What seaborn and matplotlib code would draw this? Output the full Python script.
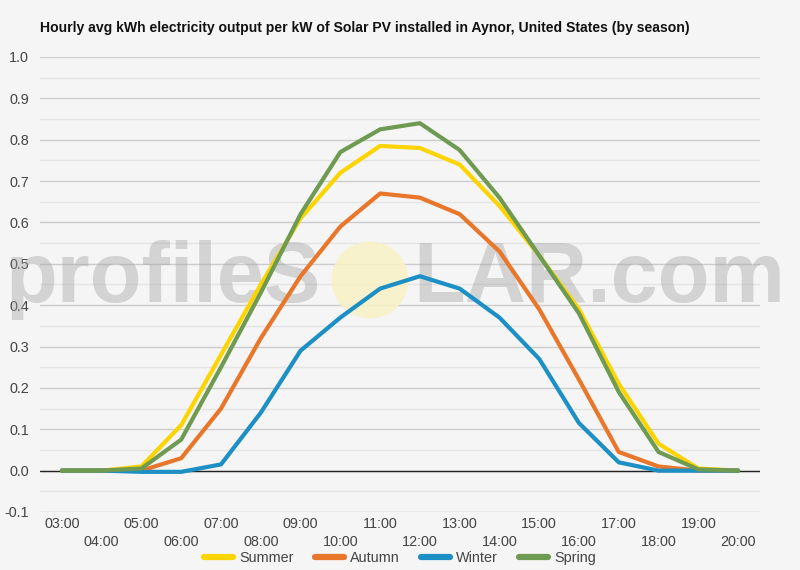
import numpy as np
import pandas as pd
import matplotlib
matplotlib.use("Agg")
import matplotlib.pyplot as plt
import seaborn as sns
from matplotlib.patches import Circle
from matplotlib.ticker import MultipleLocator, FixedLocator

hours = list(range(3, 21))
hour_labels = [f"{h:02d}:00" for h in hours]
seasons = ["Summer", "Autumn", "Winter", "Spring"]
summer = [0, 0, 0.01, 0.11, 0.28, 0.45, 0.61, 0.72, 0.785, 0.78, 0.74, 0.64, 0.52, 0.39, 0.21, 0.065, 0.005, 0]
autumn = [0, 0, 0, 0.03, 0.15, 0.32, 0.47, 0.59, 0.67, 0.66, 0.62, 0.53, 0.39, 0.22, 0.045, 0.01, 0, 0]
winter = [0, 0, -0.003, -0.003, 0.015, 0.14, 0.29, 0.37, 0.44, 0.47, 0.44, 0.37, 0.27, 0.115, 0.02, 0, 0, 0]
spring = [0, 0, 0.005, 0.075, 0.25, 0.43, 0.62, 0.77, 0.825, 0.84, 0.775, 0.66, 0.52, 0.38, 0.19, 0.045, 0.003, 0]
colors = ["#fcd400", "#e8762b", "#1c8fc4", "#6f9a52"]

df = pd.DataFrame({"hour": hours * 4,
                   "season": np.repeat(seasons, len(hours)),
                   "kwh": summer + autumn + winter + spring})

sns.set_style("white")
plt.rcParams["font.family"] = ["Liberation Sans", "DejaVu Sans"]
bg = "#f5f5f5"

fig = plt.figure(figsize=(8, 5.7), dpi=100, facecolor=bg)
ax = fig.add_axes([0.05, 0.1018, 0.90, 0.7982], facecolor=bg)

# watermark behind the lines
for txt, x0 in [("profileS", 5), ("LAR.com", 413)]:
    ax.text(x0 / 800, 1 - 302 / 570, txt, transform=fig.transFigure, fontsize=61,
            fontweight="bold", color="#a0a0a0", alpha=0.4, ha="left", va="baseline", zorder=0.6)
ax.add_patch(Circle((3.70, 2.90), 0.385, transform=fig.dpi_scale_trans, facecolor="#f8f2c4",
                    edgecolor="none", alpha=0.85, clip_on=False, zorder=0.7))

sns.lineplot(data=df, x="hour", y="kwh", hue="season", hue_order=seasons, palette=colors,
             linewidth=3.0, ax=ax, zorder=3, legend=False)
for line in ax.lines:
    line.set_solid_joinstyle("round")
    line.set_solid_capstyle("round")

ax.set_xlim(2.45, 20.55)
ax.set_ylim(-0.1, 1.0)
ax.axhline(0, color="#222222", linewidth=1, zorder=2)

ax.yaxis.set_major_locator(MultipleLocator(0.1))
ax.yaxis.set_minor_locator(MultipleLocator(0.05))
ax.set_yticklabels([f"{v:.1f}" for v in ax.get_yticks()])
ax.grid(which="major", axis="y", color="#cccccc", linewidth=1)
ax.grid(which="minor", axis="y", color="#e4e4e4", linewidth=1)
ax.set_axisbelow(True)

ax.xaxis.set_major_locator(FixedLocator(hours[::2]))
ax.xaxis.set_minor_locator(FixedLocator(hours[1::2]))
ax.set_xticklabels(hour_labels[::2])
ax.set_xticklabels(hour_labels[1::2], minor=True)
ax.tick_params(axis="x", which="major", length=0, pad=3.5, labelsize=10.4, labelcolor="#444444")
ax.tick_params(axis="x", which="minor", length=0, pad=16.5, labelsize=10.4, labelcolor="#444444")
ax.tick_params(axis="y", which="both", length=0, pad=8, labelsize=10.4, labelcolor="#444444")
ax.set_xlabel("")
ax.set_ylabel("")
for s in ax.spines.values():
    s.set_visible(False)

fig.text(40 / 800, 1 - 28 / 570, "Hourly avg kWh electricity output per kW of Solar PV installed in Aynor, United States (by season)",
         fontsize=10.1, fontweight="bold", color="#111111", ha="left", va="center")

handles = [plt.Line2D([0], [0], color=c, linewidth=4.5) for c in colors]
fig.legend(handles, seasons, loc="center", bbox_to_anchor=(0.5, 1 - 558 / 570), ncol=4,
           frameon=False, fontsize=10.4, handlelength=2.0, handletextpad=0.4, columnspacing=1.5,
           labelcolor="#444444")

fig.savefig("out.png", dpi=100, facecolor=bg)
